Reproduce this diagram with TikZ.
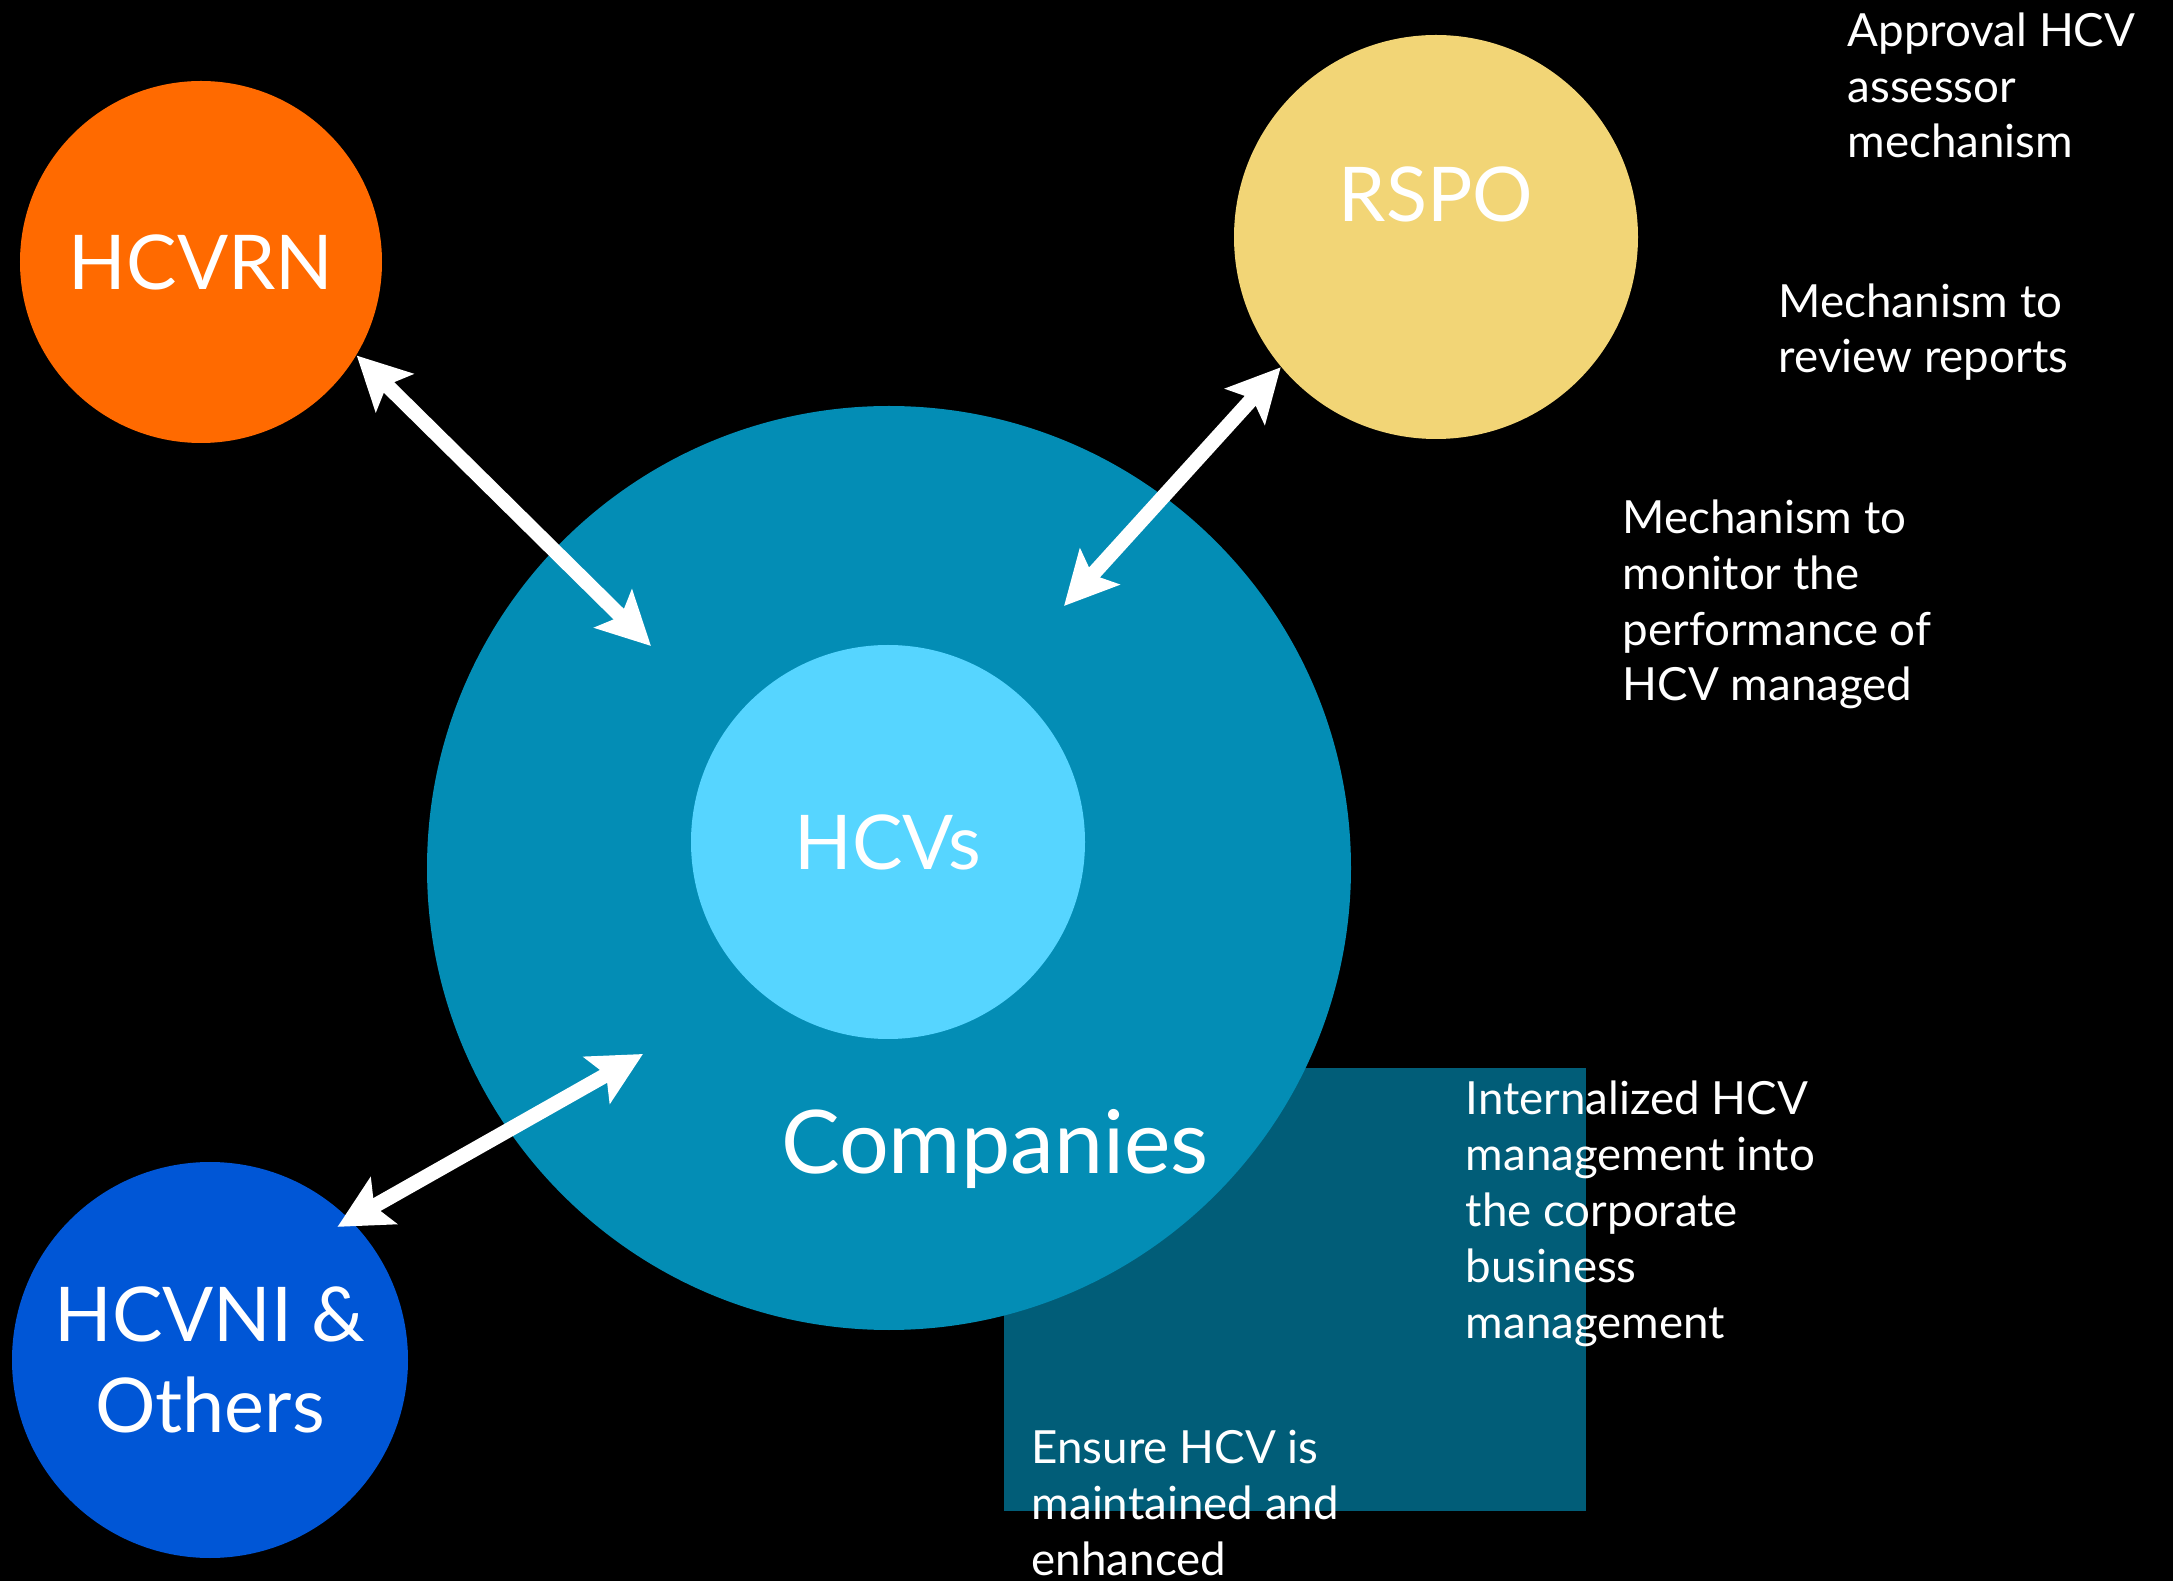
\documentclass[tikz,border=0pt]{standalone}
\usepackage{fontspec}
\setmainfont{Lato}
\usepackage{tikz}
\usetikzlibrary{arrows.meta}
\definecolor{hcvrnorange}{HTML}{FF6A00}
\definecolor{rspoyellow}{HTML}{F2D576}
\definecolor{compblue}{HTML}{038DB5}
\definecolor{hcvcyan}{HTML}{56D5FF}
\definecolor{hcvniblue}{HTML}{0056D6}
\definecolor{boxteal}{HTML}{015D78}

\begin{document}
\begin{tikzpicture}[
  blob/.style={circle, minimum size=#1, inner sep=0pt},
  biglabel/.style={text=white, font=\fontsize{21.5pt}{26pt}\selectfont, align=center},
  note/.style={text=white, font=\fontsize{13pt}{15.9pt}\selectfont, align=left, anchor=base west, inner sep=0pt},
  twoway/.style={white, line width=4.2pt, {Stealth[length=15pt,width=15pt,inset=3pt]}-{Stealth[length=15pt,width=15pt,inset=3pt]}}
]
  \useasboundingbox (0,0) rectangle (21.73,15.81);
  \fill[black] (0,0) rectangle (21.73,15.81);
  \fill[boxteal] (10.04,0.70) rectangle (15.86,5.13);

  \node (companies) at (8.89,7.13) [blob=9.24cm, fill=compblue] {};
  \node (hcvs) at (8.88,7.39) [blob=3.94cm, fill=hcvcyan, biglabel] {HCVs};
  \node (companiestext) at (9.95,4.08) [anchor=base, text=white, font=\fontsize{25pt}{30pt}\selectfont] {Companies};

  \node (hcvrn) at (2.01,13.19) [blob=3.62cm, fill=hcvrnorange, biglabel] {HCVRN};
  \node (rspo) at (14.36,13.44) [blob=4.04cm, fill=rspoyellow] {};
  \node (rspotext) at (14.36,13.87) [biglabel] {RSPO};
  \node (hcvni) at (2.10,2.21) [blob=3.96cm, fill=hcvniblue, biglabel] {HCVNI \&\\Others};

  \coordinate (fromhcvrn) at (6.51,9.35);
  \coordinate (fromrspo) at (10.64,9.75);
  \coordinate (fromhcvni) at (6.43,5.27);

  \draw[twoway] (hcvrn.-31.5) -- (fromhcvrn);
  \draw[twoway] (rspo.220) -- (fromrspo);
  \draw[twoway, shorten <=-0.15cm] (hcvni.45) -- (fromhcvni);

  \node (approval) at (18.47,14.23) [note] {Approval HCV\\assessor\\mechanism};
  \node (review) at (17.78,12.08) [note] {Mechanism to\\review reports};
  \node (monitor) at (16.22,8.80) [note] {Mechanism to\\monitor the\\performance of\\HCV managed};
  \node (internalized) at (14.65,2.43) [note] {Internalized HCV\\management into\\the corporate\\business\\management};
  \node (ensure) at (10.31,0.06) [note] {Ensure HCV is\\maintained and\\enhanced};
\end{tikzpicture}
\end{document}
